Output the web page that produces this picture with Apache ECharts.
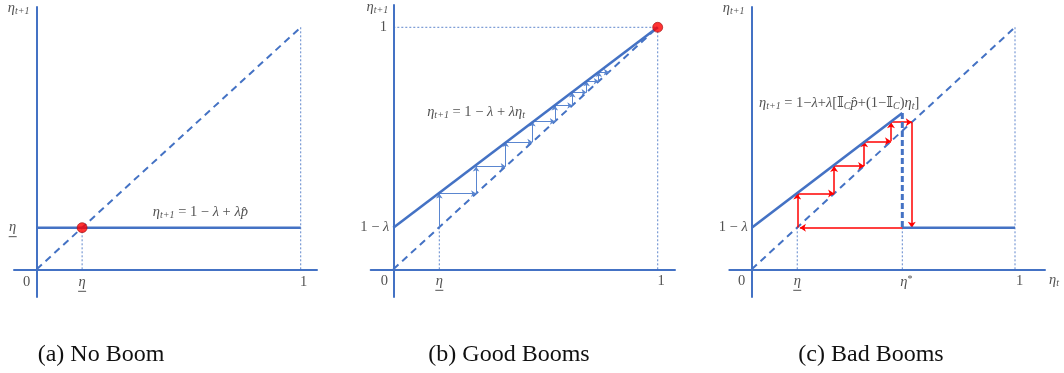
<!DOCTYPE html>
<html>
<head>
<meta charset="utf-8">
<script src="https://cdn.jsdelivr.net/npm/echarts@6/dist/echarts.min.js"></script>
<style>
  html, body { margin: 0; padding: 0; background: #ffffff; }
  #chart { width: 1064px; height: 373px; }
</style>
</head>
<body>
<div id="chart"></div>
<script>
// ---- Model values (share of the state variable, 0..1) ----
const captions = ['(a) No Boom', '(b) Good Booms', '(c) Bad Booms'];

const diagonal = [[0, 0], [1, 1]];

// (a) No boom: flat map at the lower bound
const noBoomMap = [[0, 0.172], [1, 0.172]];
const noBoomFixed = [0.172, 0.172];
const noBoomGuides = [[[0.172, 0], [0.172, 0.172]], [[1, 0], [1, 1]]];

// (b) Good booms: linear map converging to 1
const goodMap = [[0, 0.172], [1, 1]];
const goodFixed = [1, 1];
const goodSteps = [0.174, 0.313, 0.425, 0.526, 0.611, 0.677, 0.731, 0.777, 0.815];
const goodGuides = [[[0.174, 0], [0.174, 0.174]], [[1, 0], [1, 1]], [[0, 1], [1, 1]]];

// (c) Bad booms: map jumps down past the threshold
const etaStar = 0.572;
const badUpper = [[0, 0.172], [0.572, 0.646]];
const badDrop = [[0.572, 0.646], [0.572, 0.172]];
const badLower = [[0.572, 0.172], [1, 0.172]];
const badSteps = [0.173, 0.313, 0.427, 0.529, 0.608];
const badCrash = [[0.608, 0.608], [0.608, 0.172]];
const badReturn = [[0.608, 0.172], [0.183, 0.172]];
const badGuides = [[[0.173, 0], [0.173, 0.173]], [[0.572, 0], [0.572, 0.172]], [[1, 0], [1, 1]]];

// ---- Styling ----
const BLUE = '#4472C4';
const ARROW_BLUE = '#5A86D0';
const RED = '#FF0000';
const TXT = '#262626';
const MATH = '"Liberation Serif", "DejaVu Serif", "DejaVu Sans", serif';

// pixel frame of each panel: origin, unit lengths, axis extents
const frames = [
  { ox: 36.7,  oy: 269.3, ux: 264.0, uy: 242, xr: [14, 317],     yr: [7, 297] },
  { ox: 393.3, oy: 269.3, ux: 264.4, uy: 242, xr: [370.7, 675],  yr: [5, 297] },
  { ox: 751.7, oy: 269.3, ux: 263.3, uy: 242, xr: [729.3, 1045], yr: [7, 297] }
];

const FS = 14.5;
const rich = {
  i:   { fontFamily: MATH, fontStyle: 'italic', fontSize: FS, lineHeight: 16, color: TXT },
  r:   { fontFamily: MATH, fontSize: FS, lineHeight: 16, color: TXT },
  s:   { fontFamily: MATH, fontStyle: 'italic', fontSize: 10, lineHeight: 6, verticalAlign: 'bottom', color: TXT },
  sup: { fontFamily: MATH, fontSize: 10, lineHeight: 6, verticalAlign: 'top', color: TXT },
  u:   { width: 8, height: 1, lineHeight: 3, backgroundColor: TXT }
};

// text placed at data points, shifted in pixels
const ETA_T1 = '{i|η}{s|t+1}';
const ETA_LOW = '{i|η}\n{u|}';
const labelsA = [
  { at: [0, 'top'], dx: -18, dy: 1, text: ETA_T1 },
  { at: [0, 0], dx: -10, dy: 13, text: '{r|0}' },
  { at: [0.172, 0], dx: 0, dy: 14, text: ETA_LOW },
  { at: [1, 0], dx: 3, dy: 13, text: '{r|1}' },
  { at: [0, 0.172], dx: -24, dy: 1, text: ETA_LOW },
  { at: [0.62, 0.172], dx: 0, dy: -15, text: ETA_T1 + '{r| = 1 − }{i|λ}{r| + }{i|λp̂}' }
];
const labelsB = [
  { at: [0, 'top'], dx: -16, dy: 2, text: ETA_T1 },
  { at: [0, 1], dx: -10, dy: 0, text: '{r|1}' },
  { at: [0, 0.172], dx: -18.5, dy: 0, text: '{r|1 − }{i|λ}' },
  { at: [0, 0], dx: -9, dy: 12, text: '{r|0}' },
  { at: [0.174, 0], dx: 0, dy: 13, text: ETA_LOW },
  { at: [1, 0], dx: 3.5, dy: 12, text: '{r|1}' },
  { at: [0.313, 0.65], dx: 0, dy: 0, text: ETA_T1 + '{r| = 1 − }{i|λ}{r| + }{i|λη}{s|t}' }
];
const labelsC = [
  { at: [0, 'top'], dx: -18, dy: 1, text: ETA_T1 },
  { at: [0, 0.172], dx: -18.5, dy: 0, text: '{r|1 − }{i|λ}' },
  { at: [0, 0], dx: -10, dy: 12, text: '{r|0}' },
  { at: [0.173, 0], dx: 0, dy: 13, text: ETA_LOW },
  { at: [etaStar, 0], dx: 4, dy: 13, text: '{i|η}{sup|*}' },
  { at: [1, 0], dx: 4.5, dy: 12, text: '{r|1}' },
  { at: ['right', 0], dx: 9, dy: 11, text: '{i|η}{s|t}' },
  { at: [0.332, 0.687], dx: 0, dy: 0,
    text: ETA_T1 + '{r| = 1−}{i|λ}{r|+}{i|λ}{r|[𝕀}{s|C}{i|p̂}{r|+(1−𝕀}{s|C}{r|)}{i|η}{s|t}{r|]}' }
];

// ---- Build options ----
const bounds = frames.map(f => ({
  xMin: (f.xr[0] - f.ox) / f.ux,
  xMax: (f.xr[1] - f.ox) / f.ux,
  yMin: -(f.yr[1] - f.oy) / f.uy,
  yMax: (f.oy - f.yr[0]) / f.uy
}));

const grid = frames.map(f => ({
  left: f.xr[0], top: f.yr[0],
  width: f.xr[1] - f.xr[0], height: f.yr[1] - f.yr[0],
  outerBoundsMode: 'none', containLabel: false
}));

const axisBase = {
  type: 'value',
  axisLine: { show: true, onZero: true, lineStyle: { color: BLUE, width: 2 } },
  axisTick: { show: false },
  axisLabel: { show: false },
  splitLine: { show: false }
};
const xAxis = bounds.map((b, i) => Object.assign({}, axisBase, { gridIndex: i, min: b.xMin, max: b.xMax }));
const yAxis = bounds.map((b, i) => Object.assign({}, axisBase, { gridIndex: i, min: b.yMin, max: b.yMax }));

function path(p, data, lineStyle, z) {
  return { type: 'line', xAxisIndex: p, yAxisIndex: p, data: data, symbol: 'none',
           silent: true, lineStyle: lineStyle, z: z || 2 };
}
const dashedDiag = { color: BLUE, width: 2, type: [7, 5] };
const thick = { color: BLUE, width: 2.6 };
const dotted = { color: BLUE, width: 1, type: [2, 2], opacity: 0.85 };

function guides(p, list) {
  return list.map(seg => path(p, seg, dotted, 1));
}

// cobweb segments: up to the map, then across to the diagonal
function cobweb(xs) {
  const segs = [];
  for (let k = 0; k < xs.length - 1; k++) {
    segs.push([[xs[k], xs[k]], [xs[k], xs[k + 1]]]);
    segs.push([[xs[k], xs[k + 1]], [xs[k + 1], xs[k + 1]]]);
  }
  return segs;
}

function arrows(p, segs, color, width, size) {
  return {
    type: 'lines', coordinateSystem: 'cartesian2d', xAxisIndex: p, yAxisIndex: p,
    data: segs.map(s => ({ coords: s })), polyline: false, silent: true,
    symbol: ['none', 'arrow'], symbolSize: size,
    lineStyle: { color: color, width: width, opacity: 1, curveness: 0 }, z: 3
  };
}

function dot(p, pt) {
  return { type: 'scatter', xAxisIndex: p, yAxisIndex: p, data: [pt], symbolSize: 10, silent: true,
           itemStyle: { color: RED, borderColor: '#9c1010', borderWidth: 0.8 }, z: 10 };
}

function texts(p, list) {
  const b = bounds[p];
  return {
    type: 'scatter', xAxisIndex: p, yAxisIndex: p, symbolSize: 0, silent: true, z: 20,
    data: list.map(l => ({
      value: [l.at[0] === 'right' ? b.xMax : l.at[0], l.at[1] === 'top' ? b.yMax : l.at[1]],
      label: { show: true, position: 'inside', offset: [l.dx, l.dy], formatter: l.text, rich: rich }
    }))
  };
}

const series = [
  // (a)
  ...guides(0, noBoomGuides),
  path(0, diagonal, dashedDiag),
  path(0, noBoomMap, thick, 4),
  dot(0, noBoomFixed),
  texts(0, labelsA),
  // (b)
  ...guides(1, goodGuides),
  path(1, diagonal, dashedDiag),
  arrows(1, cobweb(goodSteps), ARROW_BLUE, 1, 5),
  path(1, goodMap, thick, 4),
  dot(1, goodFixed),
  texts(1, labelsB),
  // (c)
  ...guides(2, badGuides),
  path(2, diagonal, dashedDiag),
  arrows(2, cobweb(badSteps).concat([badCrash, badReturn]), RED, 1.5, 6),
  path(2, badUpper, thick, 4),
  path(2, badDrop, { color: BLUE, width: 3, type: [6, 3] }, 4),
  path(2, badLower, thick, 4),
  texts(2, labelsC)
];

const centers = [96, 504, 866];
const title = captions.map((t, i) => ({
  text: t, left: centers[i], top: 338, textAlign: 'center',
  textStyle: { fontFamily: '"Liberation Serif", serif', fontSize: 24, fontWeight: 'normal', color: '#111' }
}));

const chart = echarts.init(document.getElementById('chart'), null, { renderer: 'canvas' });
chart.setOption({
  animation: false,
  backgroundColor: '#ffffff',
  title: title,
  grid: grid,
  xAxis: xAxis,
  yAxis: yAxis,
  series: series
});
</script>
</body>
</html>
